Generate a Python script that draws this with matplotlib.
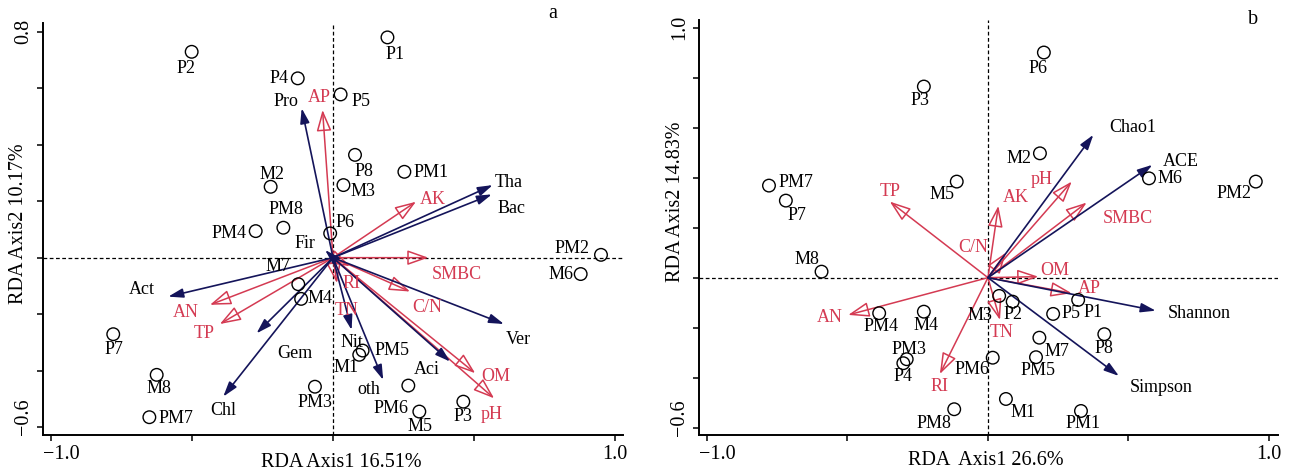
import matplotlib
matplotlib.use("Agg")
import matplotlib.pyplot as plt
from matplotlib.transforms import ScaledTranslation

plt.rcParams['font.family'] = ['Liberation Serif', 'DejaVu Serif']

# ---------------- data: panel a ----------------
samples_a = ['P1', 'P2', 'P3', 'P4', 'P5', 'P6', 'P7', 'P8',
             'M1', 'M2', 'M3', 'M4', 'M5', 'M6', 'M7', 'M8',
             'PM1', 'PM2', 'PM3', 'PM4', 'PM5', 'PM6', 'PM7', 'PM8']
sx_a = [0.193, -0.501, 0.462, -0.125, 0.027, -0.010, -0.779, 0.078,
        0.093, -0.221, 0.037, -0.113, 0.306, 0.878, -0.123, -0.625,
        0.253, 0.950, -0.064, -0.274, 0.105, 0.267, -0.651, -0.176]
sy_a = [0.780, 0.729, -0.510, 0.635, 0.578, 0.086, -0.271, 0.364,
        -0.344, 0.251, 0.257, -0.146, -0.545, -0.058, -0.094, -0.415,
        0.304, 0.010, -0.457, 0.094, -0.329, -0.453, -0.565, 0.106]

species_a = ['Pro', 'Fir', 'Act', 'Gem', 'Chl', 'Tha', 'Bac', 'Ver', 'Aci', 'Nit', 'oth']
spx_a = [-0.111, -0.028, -0.584, -0.271, -0.389, 0.566, 0.563, 0.606, 0.415, 0.066, 0.178]
spy_a = [0.529, 0.027, -0.138, -0.268, -0.492, 0.257, 0.224, -0.235, -0.368, -0.256, -0.433]

env_a = ['AP', 'AK', 'SMBC', 'C/N', 'OM', 'pH', 'RI', 'TN', 'AN', 'TP']
ex_a = [-0.037, 0.294, 0.338, 0.273, 0.504, 0.571, 0.060, 0.014, -0.436, -0.401]
ey_a = [0.523, 0.198, 0.000, -0.120, -0.409, -0.498, -0.030, -0.090, -0.167, -0.235]

# ---------------- data: panel b ----------------
samples_b = samples_a
sx_b = [0.321, 0.088, -0.228, -0.301, 0.232, 0.199, -0.719, 0.414,
        0.064, 0.185, 0.040, -0.228, -0.111, 0.573, 0.183, -0.592,
        0.331, 0.953, -0.289, -0.387, 0.171, 0.017, -0.779, -0.120]
sy_b = [-0.089, -0.096, 0.764, -0.342, -0.145, 0.900, 0.308, -0.226,
        -0.485, 0.497, -0.073, -0.136, 0.384, 0.397, -0.240, 0.024,
        -0.533, 0.384, -0.326, -0.142, -0.318, -0.320, 0.368, -0.526]

div_b = ['Chao1', 'ACE', 'Shannon', 'Simpson']
dx_b = [0.375, 0.585, 0.597, 0.466]
dy_b = [0.571, 0.451, -0.132, -0.393]

env_b = ['TP', 'C/N', 'AN', 'RI', 'AK', 'pH', 'SMBC', 'OM', 'AP', 'TN']
ex_b = [-0.349, 0.064, -0.497, -0.171, 0.037, 0.298, 0.351, 0.179, 0.298, 0.043]
ey_b = [0.304, 0.100, -0.149, -0.385, 0.287, 0.384, 0.300, 0.004, -0.062, -0.169]

xlabel_a = 'RDA Axis1 16.51%'
ylabel_a = 'RDA Axis2 10.17%'
xlabel_b = 'RDA  Axis1 26.6%'
ylabel_b = 'RDA Axis2 14.83%'

# ---------------- layout (label offsets in pixels: right, down) ----------------
off_s_a = {'P1': (8, 17), 'P2': (-6, 17), 'P3': (0, 15), 'P4': (-19, 0), 'P5': (20, 7),
           'P6': (15, -11), 'P7': (1, 15), 'P8': (9, 17), 'M1': (-13, 13), 'M2': (1, -12),
           'M3': (20, 6), 'M4': (19, 0), 'M5': (1, 15), 'M6': (-20, 0), 'M7': (-20, -18),
           'M8': (2, 14), 'PM1': (27, 1), 'PM2': (-29, -6), 'PM3': (0, 16), 'PM4': (-27, 2),
           'PM5': (29, 0), 'PM6': (-17, 23), 'PM7': (27, 1), 'PM8': (3, -18)}
off_sp_a = {'Pro': (-16, -7), 'Fir': (-20, -7), 'Act': (-26, -7), 'Gem': (38, 20),
            'Chl': (0, 14), 'Tha': (16, -3), 'Bac': (20, 14), 'Ver': (14, 15),
            'Aci': (-23, 8), 'Nit': (0, 13), 'oth': (-14, 10)}
off_e_a = {'AP': (-3, -12), 'AK': (17, -2), 'SMBC': (28, 17), 'C/N': (17, 16),
           'OM': (21, 3), 'pH': (-2, 16), 'RI': (2, 17), 'TN': (10, 27),
           'AN': (-24, 8), 'TP': (-16, 9)}
off_s_b = {'P1': (15, 13), 'P2': (0, 13), 'P3': (-4, 14), 'P4': (0, 13), 'P5': (18, 0),
           'P6': (-6, 16), 'P7': (11, 15), 'P8': (0, 14), 'M1': (17, 14), 'M2': (-21, 5),
           'M3': (-19, 20), 'M4': (2, 14), 'M5': (-15, 13), 'M6': (21, 0), 'M7': (18, 14),
           'M8': (-15, -12), 'PM1': (2, 13), 'PM2': (-22, 12), 'PM3': (2, -10), 'PM4': (2, 13),
           'PM5': (2, 13), 'PM6': (-21, 12), 'PM7': (27, -3), 'PM8': (-20, 14)}
off_d_b = {'Chao1': (39, -7), 'ACE': (28, -3), 'Shannon': (44, 3), 'Simpson': (42, 12)}
off_e_b = {'TP': (0, -10), 'C/N': (-33, -5), 'AN': (-18, 3), 'RI': (0, 13), 'AK': (17, -8),
           'pH': (-30, -2), 'SMBC': (41, 16), 'OM': (17, -6), 'AP': (18, -5), 'TN': (2, 13)}

RED = '#d43a52'
NAVY = '#14145a'
FS = 13
TFS = 14.5

W, H = 1292, 474
fig = plt.figure(figsize=(W / 100, H / 100), dpi=100)
ax_a = fig.add_axes([43 / W, (H - 435) / H, 580 / W, 412 / H])
ax_b = fig.add_axes([699 / W, (H - 435) / H, 579 / W, 415 / H])


def style_axes(ax, xlim, ylim, yticks, ylabels):
    ax.set_xlim(*xlim)
    ax.set_ylim(*ylim)
    for s in ['top', 'right']:
        ax.spines[s].set_visible(False)
    for s in ['left', 'bottom']:
        ax.spines[s].set_linewidth(1.4)
    ax.set_xticks([-1.0, -0.5, 0.0, 0.5, 1.0])
    ax.set_xticklabels(['\u22121.0', '', '', '', '1.0'], fontsize=TFS)
    ax.set_yticks(yticks)
    ax.set_yticklabels(ylabels, fontsize=TFS, rotation=90, va='center')
    ax.tick_params(direction='out', length=4, width=1.1, pad=3)
    ax.axhline(0, color='black', lw=0.9, ls=(0, (3, 2)), zorder=1)
    ax.axvline(0, color='black', lw=0.9, ls=(0, (3, 2)), zorder=1)
    # shift the negative end labels a little, as in the original
    xl = ax.get_xticklabels()[0]
    xl.set_transform(xl.get_transform() + ScaledTranslation(10 / 100, 0, fig.dpi_scale_trans))
    yl = ax.get_yticklabels()[0]
    yl.set_transform(yl.get_transform() + ScaledTranslation(0, 10 / 100, fig.dpi_scale_trans))


def draw_samples(ax, names, xs, ys, offs):
    ax.scatter(xs, ys, s=82, facecolors='none', edgecolors='black', linewidths=1.0, zorder=3)
    for n, x, y in zip(names, xs, ys):
        dx, dy = offs[n]
        ax.annotate(n, xy=(x, y), xytext=(dx, -dy), textcoords='offset pixels',
                    ha='center', va='center', fontsize=FS, color='black', zorder=4)


def draw_arrows(ax, names, xs, ys, offs, color, hollow):
    for n, x, y in zip(names, xs, ys):
        if hollow:
            props = dict(arrowstyle='-|>,head_length=0.65,head_width=0.23', mutation_scale=20,
                         edgecolor=color, facecolor='none', lw=1.1, shrinkA=0, shrinkB=0)
        else:
            props = dict(arrowstyle='-|>,head_length=0.45,head_width=0.14', mutation_scale=20,
                         edgecolor=color, facecolor=color, lw=1.2, shrinkA=0, shrinkB=0)
        ax.annotate('', xy=(x, y), xytext=(0, 0), arrowprops=props, zorder=2)
        dx, dy = offs[n]
        ax.annotate(n, xy=(x, y), xytext=(dx, -dy), textcoords='offset pixels',
                    ha='center', va='center', fontsize=FS, color=color if hollow else 'black',
                    zorder=4)


# ---- panel a ----
yt_a = [-0.6, -0.4, -0.2, 0.0, 0.2, 0.4, 0.6, 0.8]
style_axes(ax_a, (-1.028, 1.028), (-0.628, 0.831), yt_a,
           ['\u22120.6', '', '', '', '', '', '', '0.8'])
draw_arrows(ax_a, env_a, ex_a, ey_a, off_e_a, RED, True)
draw_arrows(ax_a, species_a, spx_a, spy_a, off_sp_a, NAVY, False)
draw_samples(ax_a, samples_a, sx_a, sy_a, off_s_a)
ax_a.set_xlabel(xlabel_a, fontsize=TFS)
ax_a.xaxis.set_label_coords(0.514, -0.066)
ax_a.xaxis.label.set_va('center')
ax_a.set_ylabel(ylabel_a, fontsize=TFS)
ax_a.yaxis.set_label_coords(-0.043, 0.512)
ax_a.yaxis.label.set_va('center')
ax_a.text(0.879, 1.024, 'a', transform=ax_a.transAxes, ha='center', va='center', fontsize=TFS)

# ---- panel b ----
yt_b = [-0.6, -0.4, -0.2, 0.0, 0.2, 0.4, 0.6, 0.8, 1.0]
style_axes(ax_b, (-1.028, 1.032), (-0.629, 1.03), yt_b,
           ['\u22120.6', '', '', '', '', '', '', '', '1.0'])
draw_arrows(ax_b, env_b, ex_b, ey_b, off_e_b, RED, True)
draw_arrows(ax_b, div_b, dx_b, dy_b, off_d_b, NAVY, False)
draw_samples(ax_b, samples_b, sx_b, sy_b, off_s_b)
ax_b.set_xlabel(xlabel_b, fontsize=TFS)
ax_b.xaxis.set_label_coords(0.495, -0.061)
ax_b.xaxis.label.set_va('center')
ax_b.set_ylabel(ylabel_b, fontsize=TFS)
ax_b.yaxis.set_label_coords(-0.041, 0.561)
ax_b.yaxis.label.set_va('center')
ax_b.text(0.957, 1.0, 'b', transform=ax_b.transAxes, ha='center', va='center', fontsize=TFS)

fig.savefig('out.png', dpi=100)
